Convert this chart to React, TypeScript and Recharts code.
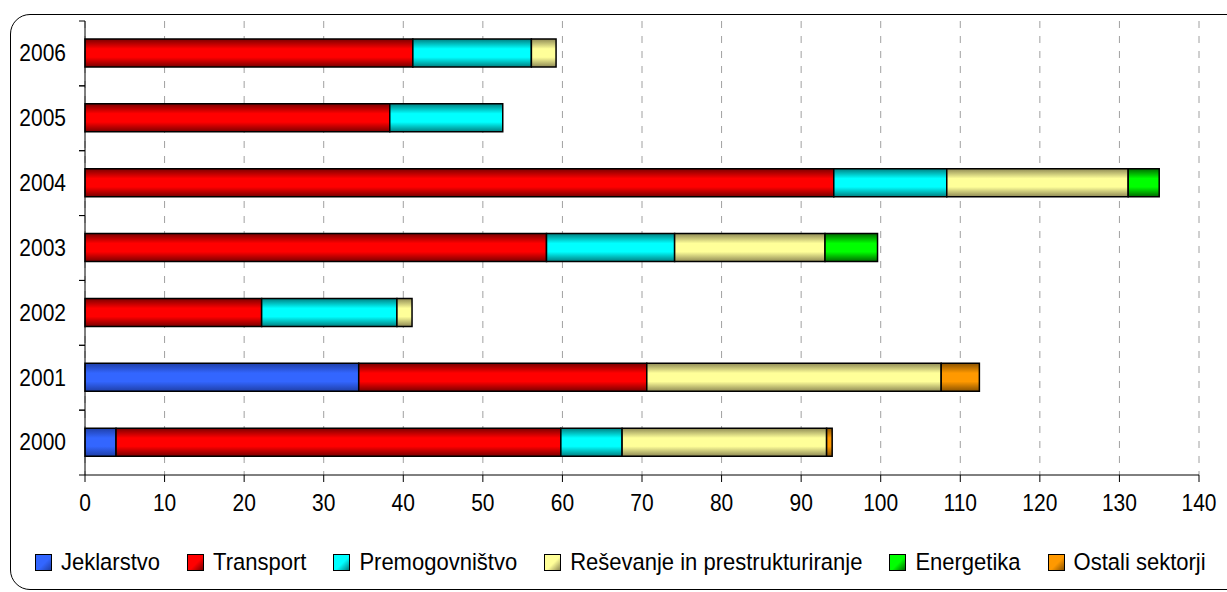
import React from 'react';
import { BarChart, Bar, XAxis, YAxis, CartesianGrid } from 'recharts';

const years = ['2006', '2005', '2004', '2003', '2002', '2001', '2000'];

const jeklarstvo = [0, 0, 0, 0, 0, 34.4, 3.9];
const transport = [41.2, 38.3, 94.1, 58.0, 22.2, 36.2, 55.9];
const premogovnistvo = [14.9, 14.2, 14.2, 16.1, 17.0, 0, 7.7];
const resevanje = [3.1, 0, 22.8, 18.9, 1.9, 37.0, 25.7];
const energetika = [0, 0, 3.9, 6.6, 0, 0, 0];
const ostali = [0, 0, 0, 0, 0, 4.8, 0.7];

const xTicks = [0, 10, 20, 30, 40, 50, 60, 70, 80, 90, 100, 110, 120, 130, 140];

const series = [
  { key: 'jek', name: 'Jeklarstvo', values: jeklarstvo, color: '#3366ff', dark: '#1f3fa8' },
  { key: 'tra', name: 'Transport', values: transport, color: '#ff0000', dark: '#7a0000' },
  { key: 'pre', name: 'Premogovništvo', values: premogovnistvo, color: '#00ffff', dark: '#007f80' },
  { key: 'res', name: 'Reševanje in prestrukturiranje', values: resevanje, color: '#ffff99', dark: '#8f8a55' },
  { key: 'ene', name: 'Energetika', values: energetika, color: '#00ff00', dark: '#006a00' },
  { key: 'ost', name: 'Ostali sektorji', values: ostali, color: '#ff9900', dark: '#8a5200' },
];

const data = years.map((year, i) => {
  const row: Record<string, string | number> = { year };
  series.forEach((s) => {
    row[s.key] = s.values[i];
  });
  return row;
});

const FONT = '"Liberation Sans", Arial, sans-serif';
const BAND = (475 - 21) / years.length;
const STRETCH = 1.12;

// year labels plus the small tick marks between categories
const YearTick = (props: any) => {
  const { x, y, payload } = props;
  return (
    <g>
      <line x1={x - 6} x2={x} y1={y - BAND / 2} y2={y - BAND / 2} stroke="#000" />
      <line x1={x - 6} x2={x} y1={y + BAND / 2} y2={y + BAND / 2} stroke="#000" />
      <text
        transform={`translate(${x - 19},${y}) scale(1,${STRETCH})`}
        textAnchor="end"
        dominantBaseline="central"
        fontSize={21}
        fill="#000"
        fontFamily={FONT}
      >
        {payload.value}
      </text>
    </g>
  );
};

const ValueTick = (props: any) => {
  const { x, y, payload } = props;
  return (
    <text
      transform={`translate(${x},${y + 21}) scale(1,${STRETCH})`}
      textAnchor="middle"
      dominantBaseline="central"
      fontSize={21}
      fill="#000"
      fontFamily={FONT}
    >
      {payload.value}
    </text>
  );
};

const App: React.FC = () => {
  return (
    <div style={{ position: 'absolute', left: 0, top: 0, width: 1227, height: 592, overflow: 'hidden', background: '#fff', fontFamily: FONT }}>
      <div
        style={{
          position: 'absolute',
          left: 10,
          top: 14,
          width: 1240,
          height: 576,
          border: '1.5px solid #000',
          borderRadius: 20,
          boxSizing: 'border-box',
        }}
      />
      <div style={{ position: 'absolute', left: 0, top: 0 }}>
        <BarChart
          width={1227}
          height={592}
          data={data}
          layout="vertical"
          margin={{ top: 21, right: 28, left: 0, bottom: 77 }}
          barSize={28}
        >
          <defs>
            {series.map((s) => (
              <linearGradient key={s.key} id={`g-${s.key}`} x1="0" y1="0" x2="0" y2="1">
                <stop offset="0%" stopColor={s.dark} />
                <stop offset="35%" stopColor={s.color} />
                <stop offset="65%" stopColor={s.color} />
                <stop offset="100%" stopColor={s.dark} />
              </linearGradient>
            ))}
          </defs>
          <CartesianGrid horizontal={false} stroke="#a0a0a0" strokeDasharray="7 8" />
          <XAxis
            type="number"
            domain={[0, 140]}
            ticks={xTicks}
            height={40}
            axisLine={{ stroke: '#000' }}
            tickLine={{ stroke: '#000' }}
            tickSize={7}
            tickMargin={0}
            tick={<ValueTick />}
            interval={0}
          />
          <YAxis
            type="category"
            dataKey="year"
            width={85}
            axisLine={{ stroke: '#000' }}
            tickLine={false}
            tickSize={0}
            tickMargin={0}
            tick={<YearTick />}
            interval={0}
          />
          {series.map((s) => (
            <Bar
              key={s.key}
              dataKey={s.key}
              name={s.name}
              stackId="a"
              fill={`url(#g-${s.key})`}
              stroke="#000"
              strokeWidth={1.5}
              isAnimationActive={false}
            />
          ))}
        </BarChart>
      </div>
      <div
        style={{
          position: 'absolute',
          left: 35,
          top: 549,
          display: 'flex',
          alignItems: 'center',
          gap: 27,
          fontSize: 22,
          color: '#000',
          whiteSpace: 'nowrap',
        }}
      >
        {series.map((s) => (
          <div key={s.key} style={{ display: 'flex', alignItems: 'center', gap: 9 }}>
            <span
              style={{
                display: 'inline-block',
                width: 17,
                height: 17,
                boxSizing: 'border-box',
                background: `linear-gradient(135deg, ${s.color} 55%, ${s.dark})`,
                border: '1.5px solid #000',
              }}
            />
            <span style={{ display: 'inline-block', transform: `scaleY(${STRETCH})` }}>{s.name}</span>
          </div>
        ))}
      </div>
    </div>
  );
};

export default App;
